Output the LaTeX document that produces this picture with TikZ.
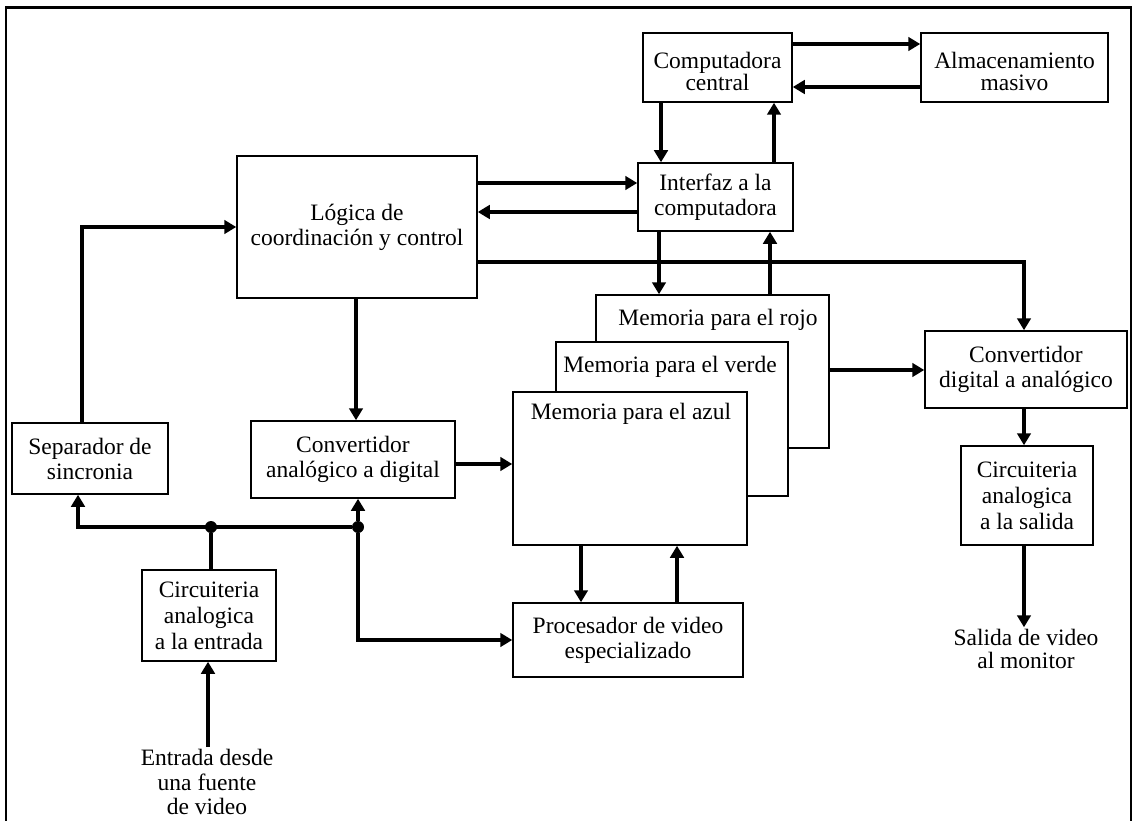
\documentclass[tikz,border=0pt]{standalone}
\usepackage{fontspec}
\setmainfont{Liberation Serif}
\usetikzlibrary{arrows.meta}
\begin{document}
\begin{tikzpicture}[x=1pt,y=-1pt,
  font=\fontsize{23.5}{25}\selectfont,
  box/.style={draw, line width=1.5pt, align=center, inner sep=0pt, fill=white},
  conn/.style={line width=3.5pt, -{Triangle[length=12pt,width=13.5pt]}},
  wire/.style={line width=3.5pt},
  dot/.style={circle, fill, inner sep=0pt, minimum size=12pt},
  lbl/.style={align=center, inner sep=2pt}]
\useasboundingbox (0,0) rectangle (1135,821);

% outer frame (open at the bottom)
\draw[line width=2pt] (6,821) -- (6,8);
\draw[line width=2pt] (1131,821) -- (1131,8);
\draw[line width=3pt] (5,8) -- (1132,8);

% lanes used by the connectors
\coordinate (xCI) at (661,0);
\coordinate (xIC) at (774,0);
\coordinate (xIR) at (659,0);
\coordinate (xRI) at (770,0);
\coordinate (xD)  at (1024,0);
\coordinate (xS)  at (82,0);
\coordinate (xL)  at (356,0);
\coordinate (xAP) at (581,0);
\coordinate (xPA) at (677,0);
\coordinate (xE)  at (208,0);
\coordinate (yCA) at (0,44);
\coordinate (yAC) at (0,87);
\coordinate (yLI) at (0,183);
\coordinate (yIL) at (0,212);
\coordinate (yLD) at (0,262);
\coordinate (yAZ) at (0,464);
\coordinate (yRD) at (0,370);

% blocks
\node[box, minimum width=149pt, minimum height=69pt] (comp) at (717.5,67.5) {};
\node[lbl, font=\fontsize{23.5}{22}\selectfont] (tcomp) at ([yshift=-4pt]comp.center) {Computadora\\central};
\node[box, minimum width=187pt, minimum height=69pt] (alm) at (1014.5,67.5) {};
\node[lbl, font=\fontsize{23.5}{22}\selectfont] (talm) at ([yshift=-4pt]alm.center) {Almacenamiento\\masivo};
\node[box, minimum width=155pt, minimum height=68pt] (iface) at (715.5,197) {Interfaz a la\\computadora};
\node[box, minimum width=240pt, minimum height=142pt] (logic) at (357,227) {Lógica de\\coordinación y control};

% stacked colour memories
\node[box, minimum width=233pt, minimum height=153pt] (rojo) at (712.5,371.5) {};
\node[anchor=base, inner sep=0pt] (trojo) at (718,325) {Memoria para el rojo};
\node[box, minimum width=232pt, minimum height=154pt] (verde) at (672,419) {};
\node[anchor=base, inner sep=0pt] (tverde) at (670,372) {Memoria para el verde};
\node[box, minimum width=234pt, minimum height=153pt] (azul) at (630,468.5) {};
\node[anchor=base, inner sep=0pt] (tazul) at (631,419) {Memoria para el azul};

\node[box, minimum width=156pt, minimum height=71pt] (sep) at (90,458.5) {Separador de\\sincronia};
\node[box, minimum width=204pt, minimum height=77pt] (adc) at (353,459.5) {Convertidor\\analógico a digital};
\node[box, minimum width=202pt, minimum height=77pt] (dac) at (1026,369.5) {Convertidor\\digital a analógico};
\node[box, minimum width=132pt, minimum height=99pt, font=\fontsize{23.5}{26}\selectfont] (outc) at (1027,495.5) {Circuiteria\\analogica\\a la salida};
\node[box, minimum width=134pt, minimum height=91pt, font=\fontsize{23.5}{26}\selectfont] (inc) at (209,615.5) {Circuiteria\\analogica\\a la entrada};
\node[box, minimum width=230pt, minimum height=74pt] (proc) at (628,640) {Procesador de video\\especializado};

% free labels
\node[lbl, font=\fontsize{23.5}{24.5}\selectfont] (src) at (207,782) {Entrada desde\\una fuente\\de video};
\node[lbl, font=\fontsize{23.5}{22.5}\selectfont] (mon) at (1026,649) {Salida de video\\al monitor};

% host computer and storage
\draw[conn] (comp.east |- yCA) -- (alm.west |- yCA);
\draw[conn] (alm.west |- yAC) -- (comp.east |- yAC);
\draw[conn] (comp.south -| xCI) -- (iface.north -| xCI);
\draw[conn] (iface.north -| xIC) -- (comp.south -| xIC);

% control logic and interface
\draw[conn] (logic.east |- yLI) -- (iface.west |- yLI);
\draw[conn] (iface.west |- yIL) -- (logic.east |- yIL);
\draw[conn] (iface.south -| xIR) -- (rojo.north -| xIR);
\draw[conn] (rojo.north -| xRI) -- (iface.south -| xRI);
\draw[conn] (logic.east |- yLD) -- (yLD -| xD) -- (dac.north -| xD);
\draw[conn] (sep.north -| xS) -- (xS |- logic.west) -- (logic.west);
\draw[conn] (logic.south -| xL) -- (adc.north -| xL);

% data path
\draw[conn] (adc.east |- yAZ) -- (azul.west |- yAZ);
\draw[conn] (rojo.east |- yRD) -- (dac.west |- yRD);
\draw[conn] (azul.south -| xAP) -- (proc.north -| xAP);
\draw[conn] (proc.north -| xPA) -- (azul.south -| xPA);
\draw[conn] (dac.south -| xD) -- (outc.north -| xD);
\draw[conn] (outc.south -| xD) -- (mon.north -| xD);

% input bus
\node[dot] (j1) at (211,527) {};
\node[dot] (j2) at (358,527) {};
\coordinate (bl) at (78,527);
\draw[wire] (inc.north -| j1) -- (j1);
\draw[conn] (j2) -- (bl) -- (sep.south -| bl);
\draw[conn] (j2) -- (adc.south -| j2);
\draw[conn] (j2) -- (j2 |- proc.west) -- (proc.west);
\draw[conn] (src.north -| xE) -- (inc.south -| xE);
\end{tikzpicture}
\end{document}
